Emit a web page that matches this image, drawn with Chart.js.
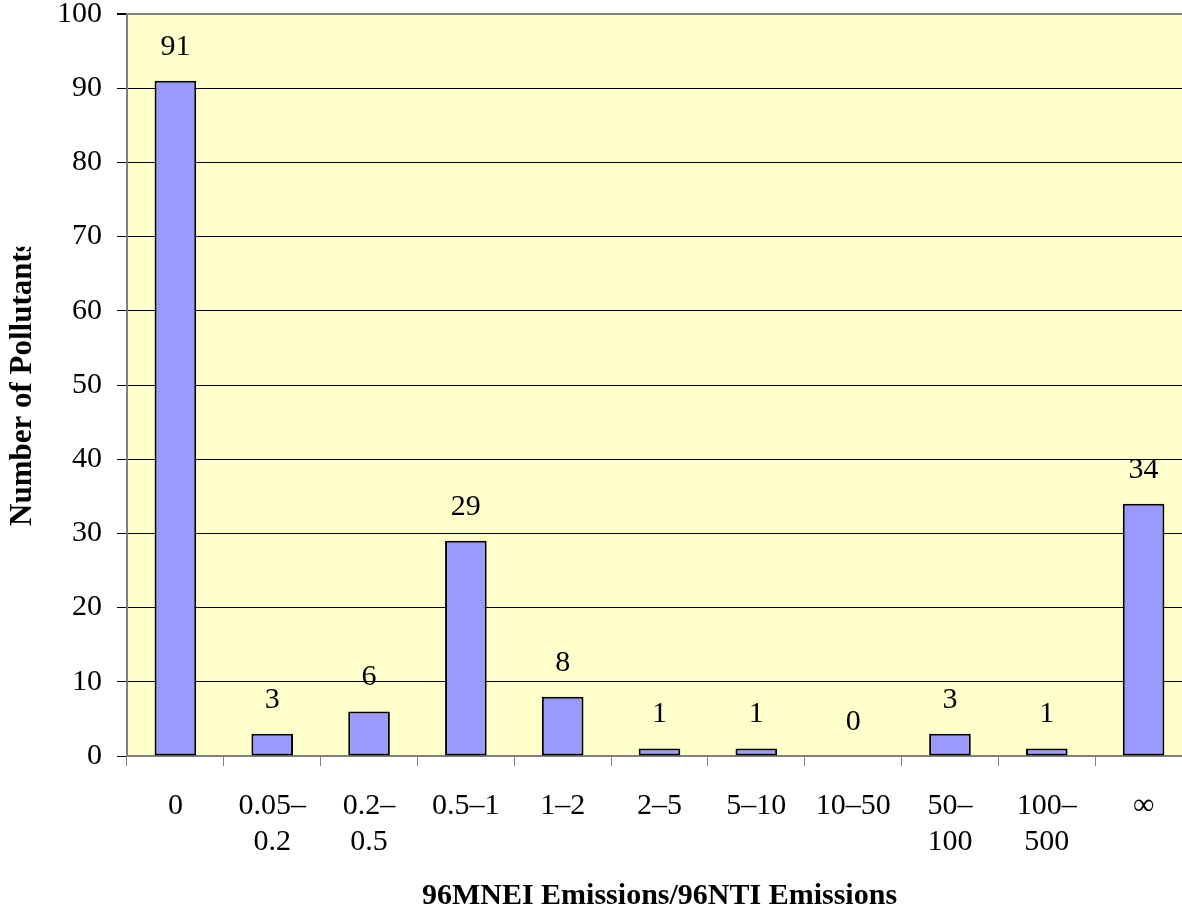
<!DOCTYPE html>
<html>
<head>
<meta charset="utf-8">
<script src="https://cdn.jsdelivr.net/npm/chart.js@4/dist/chart.umd.min.js"></script>
<style>
  html, body { margin: 0; padding: 0; background: #ffffff; overflow: hidden; }
  #wrap { width: 1200px; height: 913px; }
</style>
</head>
<body>
<div id="wrap"><canvas id="c" width="1200" height="913"></canvas></div>
<script>
// Ratio bins (multi-line labels as arrays of lines)
const categories = [
  ['0'], ['0.05–', '0.2'], ['0.2–', '0.5'], ['0.5–1'], ['1–2'], ['2–5'],
  ['5–10'], ['10–50'], ['50–', '100'], ['100–', '500'], ['∞']
];
// Number of pollutants in each bin
const pollutantCounts = [91, 3, 6, 29, 8, 1, 1, 0, 3, 1, 34];
const yTicks = [0, 10, 20, 30, 40, 50, 60, 70, 80, 90, 100];
const xTitle = '96MNEI Emissions/96NTI Emissions';
const yTitle = 'Number of Pollutants';

const SERIF = "'Liberation Serif', 'Times New Roman', serif";

// Pale yellow plot background
const plotBackground = {
  id: 'plotBackground',
  beforeDraw(chart) {
    const { ctx, chartArea: a } = chart;
    ctx.save();
    ctx.fillStyle = '#FFFFCC';
    ctx.fillRect(a.left, a.top, a.right - a.left, a.bottom - a.top);
    ctx.restore();
  }
};

// Value written above each bar
const valueLabels = {
  id: 'valueLabels',
  afterDatasetsDraw(chart) {
    const { ctx } = chart;
    const meta = chart.getDatasetMeta(0);
    ctx.save();
    ctx.font = '30px ' + SERIF;
    ctx.fillStyle = '#000';
    ctx.textAlign = 'center';
    ctx.textBaseline = 'middle';
    meta.data.forEach((bar, i) => {
      ctx.fillText(String(pollutantCounts[i]), bar.x, bar.y - 34);
    });
    ctx.restore();
  }
};

// Vertical axis title, cut off at the top of its box
const yAxisTitle = {
  id: 'yAxisTitle',
  afterDraw(chart) {
    const { ctx } = chart;
    ctx.save();
    ctx.font = 'bold 31px ' + SERIF;
    const startY = 526;
    const head = ctx.measureText(yTitle.slice(0, -1)).width;
    const tail = ctx.measureText(yTitle.slice(-1)).width;
    const cutY = startY - head - tail * 0.45;
    ctx.beginPath();
    ctx.rect(0, cutY, 60, 913 - cutY);
    ctx.clip();
    ctx.translate(23, startY);
    ctx.rotate(-Math.PI / 2);
    ctx.fillStyle = '#000';
    ctx.textAlign = 'left';
    ctx.textBaseline = 'middle';
    ctx.fillText(yTitle, 0, 0);
    ctx.restore();
  }
};

new Chart(document.getElementById('c'), {
  type: 'bar',
  data: {
    labels: categories,
    datasets: [{
      data: pollutantCounts,
      backgroundColor: '#9999FF',
      borderColor: '#000000',
      borderWidth: pollutantCounts.map(v => (v === 0 ? 0 : 2)),
      borderSkipped: false,
      categoryPercentage: 1,
      barPercentage: 0.43
    }]
  },
  options: {
    responsive: false,
    animation: false,
    devicePixelRatio: 1,
    layout: { padding: { top: 14, right: 8, bottom: 0, left: 0 } },
    plugins: {
      legend: { display: false },
      tooltip: { enabled: false },
      title: { display: false }
    },
    scales: {
      x: {
        grid: {
          offset: true,
          drawOnChartArea: false,
          color: '#808080',
          tickColor: '#808080',
          tickLength: 10,
          lineWidth: 1
        },
        border: { display: true, color: '#808080', width: 2 },
        ticks: {
          color: '#000',
          padding: 22,
          maxRotation: 0,
          autoSkip: false,
          font: { family: SERIF, size: 30, lineHeight: 1.2 }
        },
        title: {
          display: true,
          text: xTitle,
          color: '#000',
          padding: { top: 0, bottom: 0 },
          font: { family: SERIF, size: 30, weight: 'bold', lineHeight: 1.1 }
        },
        afterFit(scale) {
          scale.height = 157;
          scale.paddingLeft = 0;
          scale.paddingRight = 0;
        }
      },
      y: {
        min: 0,
        max: 100,
        afterBuildTicks(scale) { scale.ticks = yTicks.map(v => ({ value: v })); },
        grid: {
          color: ctx => (ctx.tick && (ctx.tick.value === 100 || ctx.tick.value === 0)) ? '#808080' : '#000000',
          lineWidth: ctx => (ctx.tick && ctx.tick.value === 100) ? 2 : 1,
          tickColor: '#000000',
          tickLength: 10
        },
        border: { display: true, color: '#808080', width: 2 },
        ticks: {
          color: '#000',
          padding: 15,
          font: { family: SERIF, size: 30 }
        },
        afterFit(scale) {
          scale.width = 127;
          scale.paddingTop = 0;
          scale.paddingBottom = 0;
        }
      }
    }
  },
  plugins: [plotBackground, valueLabels, yAxisTitle]
});
</script>
</body>
</html>
